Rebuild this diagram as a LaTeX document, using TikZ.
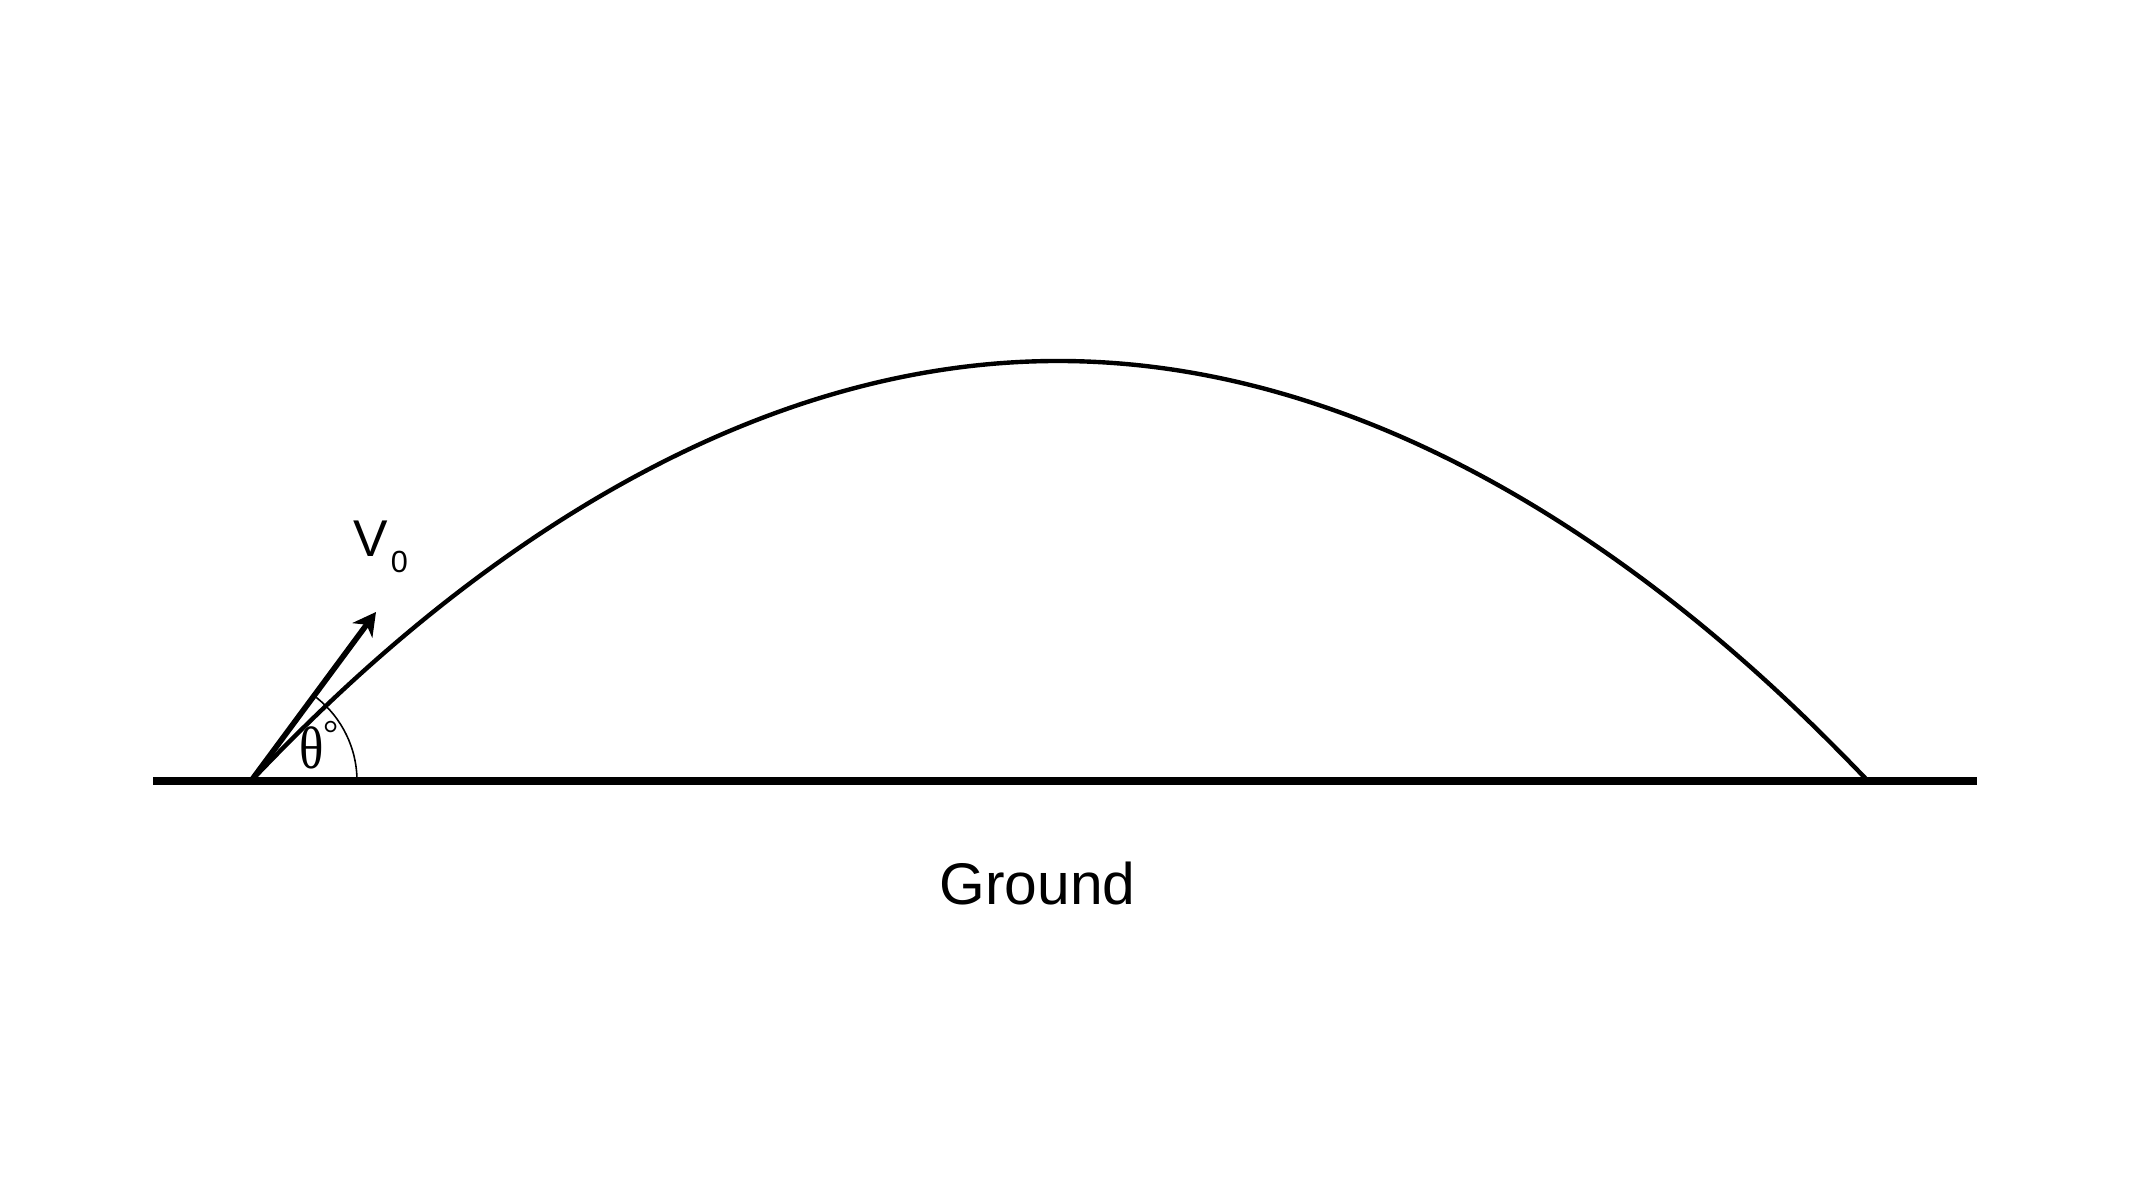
\documentclass[tikz,border=0pt]{standalone}
\usepackage{fontspec}
\setmainfont{Liberation Sans}
\newfontfamily\seriffont{Liberation Serif}
\usetikzlibrary{arrows.meta}
\begin{document}
\begin{tikzpicture}[x=0.01cm,y=0.01cm,
  groundline/.style={line width=2.1pt, line cap=butt},
  pathline/.style={line width=1.25pt},
  velarrow/.style={line width=1.6pt, -{Stealth[length=6.5pt,width=7pt,inset=2pt]}},
  anglearc/.style={line width=0.45pt},
  lbl/.style={inner sep=0pt, outer sep=0pt}]
\useasboundingbox (0,0) rectangle (2133,1200);
\fill[white] (0,0) rectangle (2133,1200);
\coordinate (gl) at (153,419);
\coordinate (gr) at (1977,419);
\coordinate (launch) at (251,419);
\coordinate (apex) at (1058,839);
\coordinate (land) at (1868,419);
\coordinate (tip) at (376,588);
\draw[groundline] (gl) -- (gr);
\draw[pathline] (launch) parabola bend (apex) (land);
\draw[velarrow] (launch) -- (tip);
\draw[anglearc] ([shift={(0:106)}]launch) arc[start angle=0, end angle=52, radius=106];
\node[lbl, anchor=base west] (theta) at (299,431)
  {\seriffont\scalebox{0.85}[1]{\fontsize{17}{20}\selectfont θ}\raisebox{6.3pt}{\fontsize{10.8}{12}\selectfont °}};
\node[lbl, anchor=base west] (v0) at (353,643)
  {\fontsize{14.7}{17}\selectfont V\kern1pt\raisebox{-4.3pt}{\fontsize{8.7}{10}\selectfont 0}};
\node[lbl, anchor=base] (ground) at (1037.5,295)
  {\fontsize{16.7}{20}\selectfont Ground};
\end{tikzpicture}
\end{document}
